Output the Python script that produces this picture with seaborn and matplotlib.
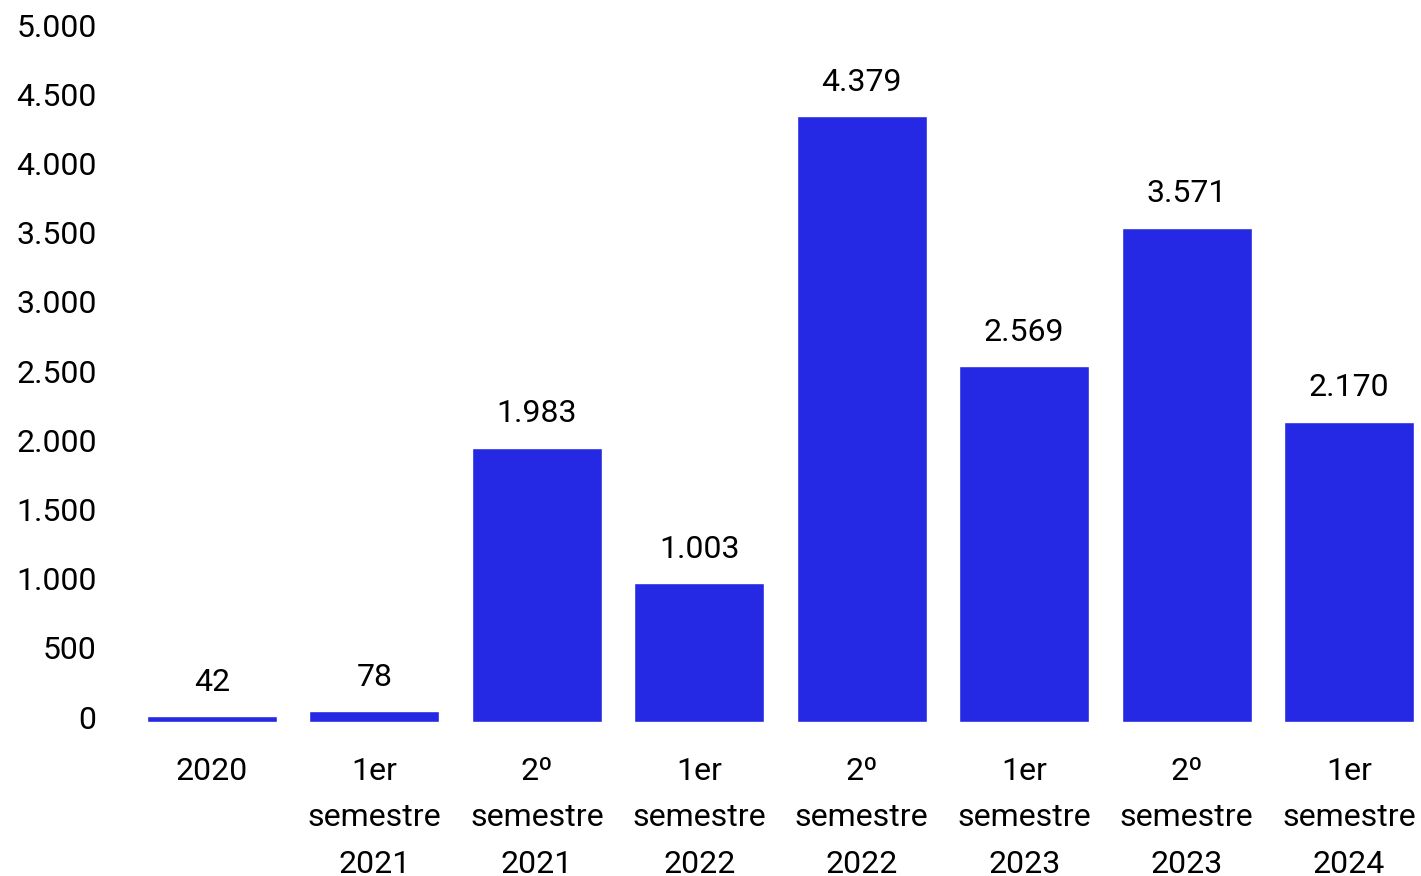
import pandas as pd
import matplotlib.pyplot as plt
import matplotlib.transforms as mtransforms
import seaborn as sns

# Datos
categorias = ["2020", "1er\nsemestre\n2021", "2º\nsemestre\n2021", "1er\nsemestre\n2022",
              "2º\nsemestre\n2022", "1er\nsemestre\n2023", "2º\nsemestre\n2023",
              "1er\nsemestre\n2024"]
valores = [42, 78, 1983, 1003, 4379, 2569, 3571, 2170]
y_ticks = [0, 500, 1000, 1500, 2000, 2500, 3000, 3500, 4000, 4500, 5000]

sns.set_style("white")
plt.rcParams['font.family'] = ['Roboto', 'DejaVu Sans']
plt.rcParams['text.color'] = 'black'
plt.rcParams['xtick.color'] = 'black'
plt.rcParams['ytick.color'] = 'black'


def miles(v):
    return f"{v:,}".replace(",", ".")


df = pd.DataFrame({"periodo": categorias, "valor": valores})

fig = plt.figure(figsize=(14.21, 8.76), dpi=100)
ax = fig.add_axes([130.75 / 1421, (876 - 722) / 876, (1421 - 130.75) / 1421, (722 - 30) / 876])

sns.barplot(data=df, x="periodo", y="valor", color="#2529E4", saturation=1,
            width=0.8, ax=ax)

ax.set_ylim(0, 5000)
ax.set_xlim(-0.5, 7.443)
ax.set_yticks(y_ticks)
ax.set_yticklabels([miles(t) for t in y_ticks])
ax.set_xlabel("")
ax.set_ylabel("")
ax.tick_params(axis="y", length=0, pad=24.5, labelsize=23)
ax.tick_params(axis="x", length=0, pad=25, labelsize=23)
for lbl in ax.get_xticklabels():
    lbl.set_linespacing(1.76)
# etiquetas del eje y un poco por encima de la línea
desplazar = mtransforms.ScaledTranslation(0, 3.5 / 72, fig.dpi_scale_trans)
for lbl in ax.get_yticklabels():
    lbl.set_transform(lbl.get_transform() + desplazar)
sns.despine(ax=ax, left=True, bottom=True)

ax.bar_label(ax.containers[0], labels=[miles(v) for v in valores],
             padding=14, fontsize=23, color='black')

fig.savefig("out.png", dpi=100)
plt.close(fig)
